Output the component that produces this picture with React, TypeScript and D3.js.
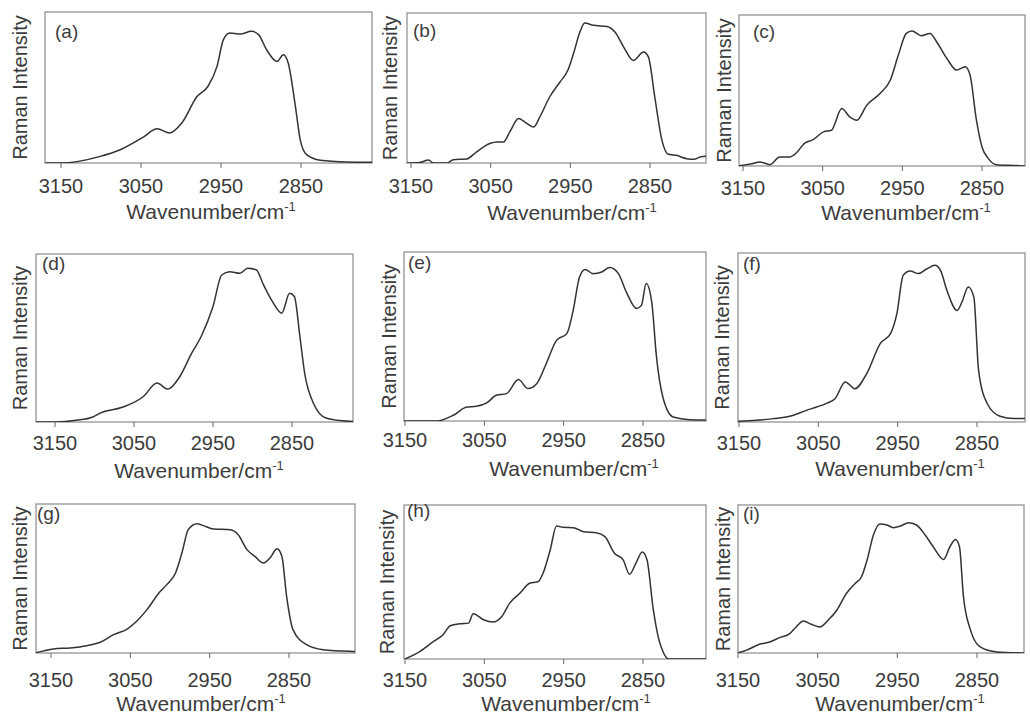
import React from "react";
import * as d3 from "d3";

// x tick values shared by every panel
const tickValues = [3150, 3050, 2950, 2850];
const panelLabels = ["(a)", "(b)", "(c)", "(d)", "(e)", "(f)", "(g)", "(h)", "(i)"];

// spectra: [wavenumber, relative intensity (0 = axis, 1 = top of frame)]
const spectrumA: [number, number][] = [
  [3172, 0], [3150, 0], [3101, 0.044], [3076, 0.088], [3047, 0.172], [3030, 0.227],
  [3014, 0.199], [2999, 0.265], [2980, 0.44], [2966, 0.51], [2955, 0.64], [2947, 0.817],
  [2939, 0.861], [2926, 0.854], [2912, 0.872], [2903, 0.85], [2893, 0.75], [2880, 0.673],
  [2872, 0.717], [2866, 0.662], [2857, 0.375], [2851, 0.155], [2843, 0.055], [2826, 0.018],
  [2793, 0.007], [2758, 0.005],
];
const spectrumB: [number, number][] = [
  [3158, 0], [3139, 0.004], [3128, 0.02], [3122, 0], [3105, 0], [3097, 0.022], [3080, 0.027],
  [3068, 0.073], [3051, 0.13], [3042, 0.14], [3034, 0.14], [3026, 0.207], [3015, 0.296],
  [3007, 0.273], [2996, 0.24], [2988, 0.31], [2976, 0.44], [2963, 0.54], [2953, 0.62],
  [2946, 0.73], [2938, 0.873], [2932, 0.933], [2921, 0.918], [2904, 0.91], [2894, 0.873],
  [2883, 0.773], [2871, 0.684], [2858, 0.74], [2852, 0.707], [2844, 0.44], [2835, 0.151],
  [2827, 0.058], [2817, 0.051], [2804, 0.029], [2795, 0.025], [2787, 0.04], [2778, 0.045],
];
const spectrumC: [number, number][] = [
  [3158, 0], [3139, 0.015], [3129, 0.027], [3116, 0.009], [3104, 0.06], [3091, 0.06],
  [3085, 0.077], [3072, 0.153], [3062, 0.175], [3049, 0.226], [3039, 0.237], [3026, 0.38],
  [3016, 0.325], [3007, 0.303], [2995, 0.4], [2978, 0.48], [2965, 0.57], [2955, 0.735],
  [2945, 0.878], [2938, 0.894], [2926, 0.863], [2915, 0.878], [2907, 0.823], [2894, 0.712],
  [2882, 0.635], [2871, 0.657], [2865, 0.602], [2857, 0.303], [2850, 0.126], [2842, 0.049],
  [2832, 0.009], [2811, 0.004], [2794, 0],
];
const spectrumD: [number, number][] = [
  [3176, 0], [3150, 0], [3123, 0.01], [3102, 0.03], [3093, 0.053], [3064, 0.089],
  [3038, 0.152], [3021, 0.232], [3007, 0.196], [2992, 0.271], [2977, 0.41], [2965, 0.509],
  [2950, 0.687], [2939, 0.875], [2929, 0.895], [2916, 0.885], [2906, 0.915], [2895, 0.905],
  [2887, 0.826], [2876, 0.727], [2863, 0.648], [2853, 0.766], [2847, 0.747], [2840, 0.509],
  [2834, 0.291], [2823, 0.113], [2807, 0.024], [2777, 0.004], [2770, 0.003],
];
const spectrumE: [number, number][] = [
  [3152, 0], [3110, 0], [3089, 0.034], [3072, 0.083], [3060, 0.087], [3047, 0.107],
  [3035, 0.152], [3022, 0.162], [3007, 0.245], [2995, 0.192], [2984, 0.221], [2972, 0.339],
  [2959, 0.477], [2946, 0.517], [2938, 0.655], [2930, 0.852], [2923, 0.897], [2913, 0.872],
  [2902, 0.882], [2892, 0.908], [2881, 0.872], [2871, 0.763], [2858, 0.665], [2852, 0.684],
  [2846, 0.813], [2839, 0.704], [2833, 0.379], [2825, 0.142], [2812, 0.024], [2791, 0.008],
  [2769, 0.006],
];
const spectrumF: [number, number][] = [
  [3153, 0.004], [3128, 0.01], [3107, 0.02], [3086, 0.034], [3065, 0.069], [3052, 0.089],
  [3039, 0.112], [3029, 0.138], [3016, 0.237], [3004, 0.197], [2989, 0.286], [2972, 0.464],
  [2959, 0.523], [2951, 0.641], [2943, 0.868], [2934, 0.893], [2924, 0.878], [2913, 0.907],
  [2903, 0.927], [2896, 0.897], [2888, 0.779], [2875, 0.66], [2869, 0.71], [2861, 0.799],
  [2854, 0.74], [2848, 0.306], [2837, 0.108], [2821, 0.034], [2804, 0.02], [2787, 0.02],
];
const spectrumG: [number, number][] = [
  [3170, 0], [3147, 0.027], [3126, 0.034], [3105, 0.049], [3088, 0.072], [3071, 0.123],
  [3054, 0.161], [3042, 0.213], [3029, 0.291], [3014, 0.403], [3004, 0.459], [2993, 0.537],
  [2985, 0.671], [2977, 0.828], [2966, 0.868], [2958, 0.855], [2945, 0.832], [2924, 0.828],
  [2914, 0.794], [2903, 0.694], [2893, 0.649], [2882, 0.604], [2874, 0.638], [2865, 0.7],
  [2859, 0.649], [2853, 0.38], [2845, 0.157], [2828, 0.056], [2807, 0.022], [2773, 0.011],
  [2765, 0.01],
];
const spectrumH: [number, number][] = [
  [3150, 0], [3131, 0.05], [3114, 0.114], [3102, 0.158], [3093, 0.216], [3081, 0.229],
  [3070, 0.233], [3064, 0.294], [3051, 0.255], [3039, 0.24], [3028, 0.276], [3018, 0.363],
  [3005, 0.428], [2993, 0.492], [2982, 0.503], [2976, 0.557], [2967, 0.708], [2959, 0.864],
  [2951, 0.855], [2938, 0.853], [2925, 0.827], [2909, 0.82], [2898, 0.795], [2886, 0.687],
  [2875, 0.644], [2867, 0.55], [2858, 0.633], [2851, 0.695], [2845, 0.644], [2837, 0.32],
  [2831, 0.147], [2825, 0.05], [2818, 0], [2769, 0],
];
const spectrumI: [number, number][] = [
  [3151, 0], [3140, 0.018], [3123, 0.059], [3110, 0.074], [3098, 0.104], [3085, 0.131],
  [3077, 0.176], [3068, 0.217], [3058, 0.194], [3047, 0.176], [3037, 0.221], [3026, 0.289],
  [3014, 0.402], [3003, 0.47], [2995, 0.515], [2988, 0.628], [2980, 0.797], [2972, 0.871],
  [2963, 0.865], [2955, 0.847], [2946, 0.858], [2936, 0.88], [2926, 0.865], [2915, 0.797],
  [2905, 0.718], [2892, 0.632], [2884, 0.718], [2877, 0.767], [2872, 0.718], [2867, 0.379],
  [2858, 0.153], [2846, 0.041], [2825, 0.007], [2790, 0],
];

const spectra = [spectrumA, spectrumB, spectrumC, spectrumD, spectrumE, spectrumF, spectrumG, spectrumH, spectrumI];

// frame box, pixel span of 3150..2850 and text baselines for each panel
const layout = [
  { x0: 45, y0: 12, x1: 372, y1: 163, t0: 61, t1: 301, tickY: 193, titleY: 219, titleX: 211, ramanX: 27, lx: 55, ly: 38 },
  { x0: 407, y0: 13, x1: 706, y1: 163, t0: 411, t1: 650, tickY: 193, titleY: 220, titleX: 572, ramanX: 397, lx: 413, ly: 37 },
  { x0: 739, y0: 15, x1: 1025, y1: 166, t0: 743, t1: 982, tickY: 195, titleY: 220, titleX: 906, ramanX: 731, lx: 753, ly: 38 },
  { x0: 36, y0: 254, x1: 353, y1: 422, t0: 55, t1: 292, tickY: 450, titleY: 478, titleX: 199, ramanX: 27, lx: 42, ly: 270 },
  { x0: 404, y0: 252, x1: 706, y1: 421, t0: 405, t1: 643, tickY: 447, titleY: 476, titleX: 574, ramanX: 396, lx: 408, ly: 269 },
  { x0: 738, y0: 253, x1: 1025, y1: 422, t0: 739, t1: 977, tickY: 450, titleY: 476, titleX: 900, ramanX: 729, lx: 743, ly: 270 },
  { x0: 36, y0: 504, x1: 355, y1: 653, t0: 51, t1: 289, tickY: 687, titleY: 711, titleX: 201, ramanX: 27, lx: 37, ly: 520 },
  { x0: 404, y0: 505, x1: 706, y1: 659, t0: 405, t1: 643, tickY: 687, titleY: 711, titleX: 566, ramanX: 394, lx: 407, ly: 517 },
  { x0: 738, y0: 505, x1: 1024, y1: 653, t0: 738, t1: 977, tickY: 687, titleY: 711, titleX: 900, ramanX: 730, lx: 743, ly: 520 },
];

const FONT = "'Liberation Sans', Arial, sans-serif";
const TEXT = "#3c3c3c";

const Panel = ({ idx }: { idx: number }) => {
  const L = layout[idx];
  const x = d3.scaleLinear().domain([3150, 2850]).range([L.t0, L.t1]);
  const y = d3.scaleLinear().domain([0, 1]).range([L.y1, L.y0]);
  const line = d3
    .line<[number, number]>()
    .x((d) => x(d[0]))
    .y((d) => y(d[1]))
    .curve(d3.curveMonotoneX);
  const clipId = `clip-${idx}`;
  const midY = (L.y0 + L.y1) / 2;

  return (
    <g>
      <clipPath id={clipId}>
        <rect x={L.x0} y={L.y0 - 2} width={L.x1 - L.x0} height={L.y1 - L.y0 + 2} />
      </clipPath>
      <rect x={L.x0} y={L.y0} width={L.x1 - L.x0} height={L.y1 - L.y0} fill="none" stroke="#8a8a8a" strokeWidth={1.2} />
      <path d={line(spectra[idx]) || ""} fill="none" stroke="#333" strokeWidth={1.5} clipPath={`url(#${clipId})`} />
      {tickValues.map((t) => (
        <g key={t}>
          <line x1={x(t)} x2={x(t)} y1={L.y1} y2={L.y1 + 5} stroke="#666" strokeWidth={1} />
          <text x={x(t)} y={L.tickY} textAnchor="middle" fontSize={20} fill={TEXT} fontFamily={FONT}>
            {t}
          </text>
        </g>
      ))}
      <text x={L.titleX} y={L.titleY} textAnchor="middle" fontSize={21} fill={TEXT} fontFamily={FONT}>
        Wavenumber/cm
        <tspan fontSize={13} dy={-8}>-1</tspan>
      </text>
      <text
        transform={`translate(${L.ramanX},${midY}) rotate(-90)`}
        textAnchor="middle"
        fontSize={20}
        fill={TEXT}
        fontFamily={FONT}
      >
        Raman Intensity
      </text>
      <text x={L.lx} y={L.ly} fontSize={19} fill={TEXT} fontFamily={FONT}>
        {panelLabels[idx]}
      </text>
    </g>
  );
};

export default function App() {
  return (
    <svg width={1030} height={715} style={{ position: "absolute", left: 0, top: 0, background: "#fff" }}>
      <rect width={1030} height={715} fill="#fff" />
      {layout.map((_, i) => (
        <Panel key={i} idx={i} />
      ))}
    </svg>
  );
}
